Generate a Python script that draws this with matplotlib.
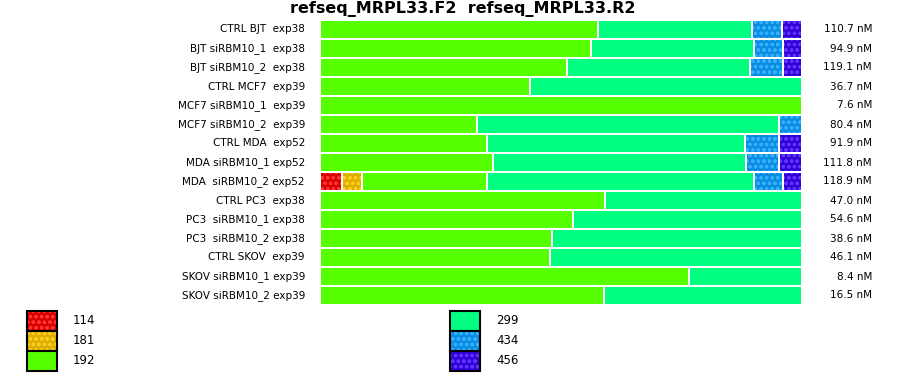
import matplotlib
matplotlib.use("Agg")
import matplotlib.pyplot as plt
from matplotlib.patches import Rectangle
import numpy as np

title = "refseq_MRPL33.F2  refseq_MRPL33.R2"

samples = [
    "CTRL BJT  exp38", "BJT siRBM10_1  exp38", "BJT siRBM10_2  exp38",
    "CTRL MCF7  exp39", "MCF7 siRBM10_1  exp39", "MCF7 siRBM10_2  exp39",
    "CTRL MDA  exp52", "MDA siRBM10_1 exp52", "MDA  siRBM10_2 exp52",
    "CTRL PC3  exp38", "PC3  siRBM10_1 exp38", "PC3  siRBM10_2 exp38",
    "CTRL SKOV  exp39", "SKOV siRBM10_1 exp39", "SKOV siRBM10_2 exp39",
]
totals = ["110.7 nM", "94.9 nM", "119.1 nM", "36.7 nM", "7.6 nM", "80.4 nM",
          "91.9 nM", "111.8 nM", "118.9 nM", "47.0 nM", "54.6 nM", "38.6 nM",
          "46.1 nM", "8.4 nM", "16.5 nM"]

# percentage of each product size per sample
sizes = ["114", "181", "192", "299", "434", "456"]
p114 = [0, 0, 0, 0, 0, 0, 0, 0, 4.6, 0, 0, 0, 0, 0, 0]
p181 = [0, 0, 0, 0, 0, 0, 0, 0, 4.2, 0, 0, 0, 0, 0, 0]
p192 = [57.7, 56.3, 51.2, 43.5, 100, 32.5, 34.6, 35.8, 25.8, 59.2, 52.5, 48.1, 47.7, 76.5, 59.0]
p299 = [31.9, 33.7, 38.1, 56.5, 0, 62.7, 53.5, 52.5, 55.4, 40.8, 47.5, 51.9, 52.3, 23.5, 41.0]
p434 = [6.2, 6.0, 6.7, 0, 0, 4.8, 7.1, 6.9, 6.0, 0, 0, 0, 0, 0, 0]
p456 = [4.2, 4.0, 4.0, 0, 0, 0, 4.8, 4.8, 4.0, 0, 0, 0, 0, 0, 0]
series = [p114, p181, p192, p299, p434, p456]

face = ["#d80000", "#dcae00", "#55ff00", "#00ff80", "#0a8ce0", "#3300d8"]
dots = ["#ff3535", "#ffcc20", None, None, "#35b0ff", "#5c35ff"]
pattern = "ooo"

plt.rcParams["hatch.linewidth"] = 0.9

fig = plt.figure(figsize=(9, 3.75), dpi=100)
ax = fig.add_axes([321 / 900, 1 - 305 / 375, 482 / 900, 285 / 375])

gap = 2 * 100 / 482
y = np.arange(len(samples))
left = np.zeros(len(samples))
for vals, fc, dc in zip(series, face, dots):
    vals = np.array(vals, dtype=float)
    mask = vals > 0
    if dc is None:
        ax.barh(y[mask], vals[mask] - gap, left=left[mask], height=16.5 / 19,
                color=fc, linewidth=0)
    else:
        ax.barh(y[mask], vals[mask] - gap, left=left[mask], height=16.5 / 19,
                facecolor=fc, edgecolor=dc, hatch=pattern, linewidth=0)
    left += vals

ax.set_xlim(0, 100)
ax.set_ylim(len(samples) - 0.5, -0.5)
ax.axis("off")

for i, (s, t) in enumerate(zip(samples, totals)):
    ax.text(-16 * 100 / 482, i, s, ha="right", va="center", fontsize=7.5)
    ax.text(100 + 69 * 100 / 482, i, t, ha="right", va="center", fontsize=7.5)

fig.text(463 / 900, 1 - 9 / 375, title, ha="center", va="center",
         fontsize=11.5, fontweight="bold")

# legend drawn in figure pixel space
lg = fig.add_axes([0, 0, 1, 1])
lg.set_xlim(0, 900)
lg.set_ylim(375, 0)
lg.axis("off")
lg.set_zorder(-1)
for k, (lab, fc, dc) in enumerate(zip(sizes, face, dots)):
    col, row = divmod(k, 3)
    x0 = 27 if col == 0 else 450
    y0 = 311 + row * 20
    if dc is None:
        lg.add_patch(Rectangle((x0, y0), 30, 20, facecolor=fc, linewidth=0))
    else:
        lg.add_patch(Rectangle((x0, y0), 30, 20, facecolor=fc, edgecolor=dc,
                               hatch=pattern, linewidth=0))
    lg.add_patch(Rectangle((x0, y0), 30, 20, fill=False, edgecolor="black",
                           linewidth=1.5))
    lg.text(x0 + 46, y0 + 10, lab, ha="left", va="center", fontsize=8.5)

fig.savefig("out.png", dpi=100)
